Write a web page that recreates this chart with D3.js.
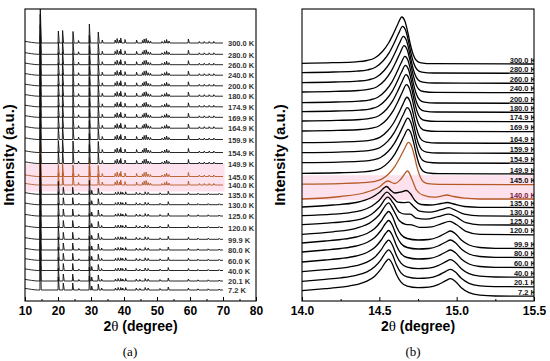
<!DOCTYPE html>
<html>
<head>
<meta charset="utf-8">
<script src="https://cdn.jsdelivr.net/npm/d3@7"></script>
<style>
  body { margin: 0; background: #fff; }
  svg { display: block; }
</style>
</head>
<body>
<div id="chart"></div>
<script>
// temperatures, top trace first
const temps = ["300.0 K","280.0 K","260.0 K","240.0 K","200.0 K","180.0 K","174.9 K","169.9 K",
  "164.9 K","159.9 K","154.9 K","149.9 K","145.0 K","140.0 K","135.0 K","130.0 K","125.0 K",
  "120.0 K","99.9 K","80.0 K","60.0 K","40.0 K","20.1 K","7.2 K"];
const highlight = ["145.0 K","140.0 K"];

// (a) wide scan: stick peaks [2theta, height]
const leftBackground = [[10, 1.6], [11, 1.1], [12, 0.6], [13, 0.2], [13.9, 0]];
const leftPeaksHigh = [[14.62, 40], [20.1, 12], [21.4, 12.5], [24.55, 11.5], [26.2, 2.5], [29.5, 19],
  [32.2, 11], [33.4, 3], [37.3, 3], [37.9, 4.5], [38.6, 3], [39.0, 5], [40.3, 3.5], [43.8, 3],
  [45.6, 2.5], [46.1, 4], [46.7, 4.5], [47.3, 2.5], [48.0, 2], [51.5, 1.5], [52.3, 2.5], [52.9, 3.5],
  [53.6, 2], [59.5, 4], [62.8, 1.5], [64.3, 1.5], [65.8, 1.5], [67.2, 1.5]];
const leftPeaksLow = [[14.62, 40], [20.1, 13], [21.6, 7], [24.45, 7], [26.3, 1.5], [29.5, 14], [30.2, 4],
  [32.2, 6], [33.2, 2], [37.4, 2], [38.2, 2.5], [39.0, 2.5], [39.6, 2], [40.5, 2.5], [43.7, 2],
  [44.8, 1.5], [46.4, 2.5], [47.3, 2], [50.9, 1.5], [53.4, 3], [59.5, 2], [62.4, 1.2], [65.5, 1.2], [68.8, 1]];
const leftPhase = ["high","high","high","high","high","high","high","high","high","high","high","high",
  "high","high","low","low","low","low","low","low","low","low","low","low"];
const leftOffset = [258, 246.7, 236.3, 225.8, 215.2, 204.8, 194.2, 183.7, 172.8, 161.5, 148.5, 137.5,
  124.5, 116, 106.7, 96.3, 85, 73.5, 61.7, 51, 40.7, 30.5, 20, 11];
const leftEnd = 70;
const leftTicks = [10, 20, 30, 40, 50, 60, 70, 80];

// (b) zoom on the first reflection
const rightOffset = [237, 227.7, 217.7, 208.3, 197.7, 188.7, 179.3, 169.3, 157.7, 147.7, 137.7, 127,
  116.3, 102, 93.5, 84.8, 75.8, 66.2, 52.5, 43.5, 33.5, 23.8, 14.2, 4.8];
// high-temperature profile, relative to the peak centre
const profileHigh = [[-0.445, 1.3], [-0.295, 2.2], [-0.225, 3.5], [-0.175, 6], [-0.125, 12.5],
  [-0.085, 21], [-0.055, 30], [-0.025, 40], [0, 47], [0.02, 43], [0.04, 31], [0.055, 20],
  [0.075, 9], [0.095, 3.5], [0.125, 1.2], [0.2, 0.3]];
const highCenter = [14.645, 14.65, 14.655, 14.66, 14.665, 14.668, 14.672, 14.675, 14.678, 14.68,
  14.683, 14.685, 14.688];
const highAmp = [1, 1, 1, 1, 1, 1, 1, 1, 0.98, 0.97, 0.96, 0.95, 0.9];
const profile140 = [[14.0, 0], [14.25, 2.5], [14.4, 6], [14.5, 12], [14.554, 18], [14.6, 15.5],
  [14.64, 20], [14.683, 28], [14.71, 20], [14.74, 9], [14.78, 4], [14.85, 1.8], [14.9, 2.8],
  [14.935, 4], [14.98, 2.5], [15.05, 0.8], [15.15, 0], [15.5, 0]];
const profile135 = [[14.0, 0.5], [14.2, 2.5], [14.35, 5], [14.45, 10], [14.5, 15], [14.547, 21],
  [14.575, 17], [14.6, 14.5], [14.64, 15.5], [14.675, 17], [14.7, 14], [14.73, 7], [14.77, 3],
  [14.83, 2.5], [14.9, 4], [14.94, 5], [14.98, 3.5], [15.05, 1], [15.15, 0.2], [15.5, 0]];
const profile130 = [[14.0, 0.5], [14.2, 2], [14.35, 4.5], [14.45, 10], [14.5, 16], [14.55, 24],
  [14.58, 20], [14.62, 14], [14.66, 13.5], [14.69, 14], [14.72, 10], [14.76, 5], [14.82, 4],
  [14.9, 6.5], [14.95, 8.5], [14.99, 6], [15.05, 2], [15.15, 0.3], [15.5, 0]];
const profile125 = [[14.0, 0.5], [14.2, 2.5], [14.35, 5], [14.45, 11], [14.5, 18], [14.555, 28],
  [14.59, 22], [14.63, 13], [14.67, 11], [14.7, 11], [14.74, 7], [14.8, 6], [14.88, 8.5],
  [14.95, 11], [15.0, 8], [15.06, 2.5], [15.15, 0.4], [15.5, 0]];
const profile120 = [[14.0, 0.5], [14.2, 3], [14.35, 6.5], [14.45, 13], [14.5, 20], [14.56, 32],
  [14.59, 25], [14.63, 14], [14.67, 10.5], [14.71, 10], [14.76, 7.5], [14.84, 8], [14.9, 11],
  [14.955, 13.5], [15.0, 10], [15.06, 3.5], [15.15, 0.5], [15.5, 0]];
const profileLow = [[14.0, 5.5], [14.15, 7.5], [14.25, 9], [14.35, 11.5], [14.42, 15], [14.47, 20],
  [14.51, 27], [14.54, 34], [14.56, 37], [14.585, 32], [14.61, 22], [14.64, 14], [14.68, 10],
  [14.75, 8.5], [14.82, 9], [14.88, 11.5], [14.93, 15.5], [14.96, 17.5], [14.99, 15], [15.03, 8.5],
  [15.08, 3.5], [15.15, 1], [15.25, 0.2], [15.5, 0]];
const rightTicks = [14.0, 14.5, 15.0, 15.5];

const W = 550, H = 361;
const plotTop = 9, plotBottom = 301;
const panelA = {left: 25, right: 256};
const panelB = {left: 302, right: 534};
const orange = "#b45a26";
const pink = "#fde2ee";

const svg = d3.select("#chart").append("svg")
  .attr("width", W).attr("height", H)
  .style("font-family", "'Liberation Sans', Arial, sans-serif");

const y = d3.scaleLinear().domain([0, plotBottom - plotTop]).range([plotBottom, plotTop]);

const defs = svg.append("defs");
defs.append("clipPath").attr("id", "clipA").append("rect")
  .attr("x", panelA.left).attr("y", plotTop).attr("width", panelA.right - panelA.left).attr("height", plotBottom - plotTop);
defs.append("clipPath").attr("id", "clipB").append("rect")
  .attr("x", panelB.left).attr("y", plotTop).attr("width", panelB.right - panelB.left).attr("height", plotBottom - plotTop);

////////////// panel (a) //////////////
const xA = d3.scaleLinear().domain([10, 80]).range([panelA.left, panelA.right]);
const gA = svg.append("g").attr("clip-path", "url(#clipA)");

// pink band around the transition
gA.append("rect")
  .attr("x", xA(10)).attr("width", xA(leftEnd + 0.5) - xA(10))
  .attr("y", y(leftOffset[12] + 12.5)).attr("height", y(leftOffset[13] - 6.5) - y(leftOffset[12] + 12.5))
  .attr("fill", pink);

function stickPoints(peaks) {
  let pts = leftBackground.slice();
  peaks.forEach(p => {
    pts.push([p[0] - 0.1, 0], [p[0], p[1]], [p[0] + 0.3, 0]);
  });
  pts.push([leftEnd, 0]);
  return pts.sort((a, b) => a[0] - b[0]);
}

// highlighted traces first, so the black spikes of the neighbours sit on top
const orderA = d3.range(temps.length).sort((a, b) =>
  (highlight.includes(temps[b]) ? 1 : 0) - (highlight.includes(temps[a]) ? 1 : 0));

const lineA = d3.line();
orderA.forEach(i => {
  const t = temps[i];
  const peaks = leftPhase[i] == "high" ? leftPeaksHigh : leftPeaksLow;
  const off = leftOffset[i];
  gA.append("path")
    .attr("d", lineA(stickPoints(peaks).map(d => [xA(d[0]), y(off + d[1])])))
    .attr("fill", "none")
    .attr("stroke", highlight.includes(t) ? orange : "#111")
    .attr("stroke-width", 0.9);
});

svg.append("g").selectAll("text")
  .data(temps)
  .join("text")
    .attr("x", xA(leftEnd) + 5)
    .attr("y", (d, i) => y(leftOffset[i]) + 3.2)
    .style("font-size", "7.5px")
    .style("font-weight", "bold")
    .style("fill", "#333")
    .text(d => d);

////////////// panel (b) //////////////
const xB = d3.scaleLinear().domain([14.0, 15.5]).range([panelB.left, panelB.right]);
const gB = svg.append("g").attr("clip-path", "url(#clipB)");

gB.append("rect")
  .attr("x", panelB.left).attr("width", panelB.right - panelB.left)
  .attr("y", y(rightOffset[12] + 9.5)).attr("height", y(rightOffset[13] - 1) - y(rightOffset[12] + 9.5))
  .attr("fill", pink);

function rightProfile(i) {
  if (i < highCenter.length) {
    const c = highCenter[i], a = highAmp[i];
    let pts = [[14.0, 0.7 * a]];
    profileHigh.forEach(p => pts.push([c + p[0], p[1] * a]));
    pts.push([15.5, 0]);
    return pts;
  }
  const byTemp = {"140.0 K": profile140, "135.0 K": profile135, "130.0 K": profile130,
    "125.0 K": profile125, "120.0 K": profile120};
  return byTemp[temps[i]] || profileLow;
}

const lineB = d3.line().curve(d3.curveMonotoneX);
temps.forEach((t, i) => {
  const off = rightOffset[i];
  gB.append("path")
    .attr("d", lineB(rightProfile(i).map(d => [xB(d[0]), y(off + d[1])])))
    .attr("fill", "none")
    .attr("stroke", highlight.includes(t) ? orange : "#000")
    .attr("stroke-width", 1.3);
});

gB.append("g").selectAll("text")
  .data(temps)
  .join("text")
    .attr("x", panelB.right + 2)
    .attr("y", (d, i) => y(rightOffset[i]) - 1.5)
    .attr("text-anchor", "end")
    .style("font-size", "7.5px")
    .style("font-weight", "bold")
    .style("fill", d => d == "140.0 K" ? "#7a1a3c" : "#111")
    .text(d => d);

////////////// frames and axes //////////////
function frame(p) {
  svg.append("rect")
    .attr("x", p.left).attr("y", plotTop)
    .attr("width", p.right - p.left).attr("height", plotBottom - plotTop)
    .attr("fill", "none").attr("stroke", "#000").attr("stroke-width", 1.1);
}
frame(panelA);
frame(panelB);

function xAxis(scale, ticks, minor, fmt) {
  svg.append("g")
    .attr("transform", `translate(0, ${plotBottom})`)
    .call(d3.axisBottom(scale).tickValues(minor).tickSize(-2).tickFormat(""))
    .call(g => g.select(".domain").remove());
  svg.append("g")
    .attr("transform", `translate(0, ${plotBottom})`)
    .call(d3.axisBottom(scale).tickValues(ticks).tickSize(-4).tickPadding(5).tickFormat(fmt))
    .call(g => g.select(".domain").remove())
    .call(g => g.selectAll("text")
      .style("font-family", "'Liberation Sans', Arial, sans-serif")
      .style("font-size", "12px").style("font-weight", "bold").style("fill", "#000"));
}
xAxis(xA, leftTicks, [15, 25, 35, 45, 55, 65, 75], d3.format("d"));
xAxis(xB, rightTicks, [14.25, 14.75, 15.25], d3.format(".1f"));

// axis titles
function xTitle(cx) {
  const t = svg.append("text")
    .attr("x", cx).attr("y", 331)
    .attr("text-anchor", "middle")
    .style("font-size", "14px").style("font-weight", "bold");
  t.append("tspan").text("2");
  t.append("tspan").style("font-family", "'Liberation Serif', 'Times New Roman', serif")
    .style("font-weight", "normal").style("font-size", "15px").text("θ");
  t.append("tspan").text(" (degree)");
}
xTitle((panelA.left + panelA.right) / 2);
xTitle((panelB.left + panelB.right) / 2);

function yTitle(cx) {
  svg.append("text")
    .attr("transform", `translate(${cx}, ${(plotTop + plotBottom) / 2}) rotate(-90)`)
    .attr("text-anchor", "middle")
    .style("font-size", "15px").style("font-weight", "bold")
    .text("Intensity (a.u.)");
}
yTitle(14);
yTitle(285);

// panel letters
[["(a)", 130], ["(b)", 413]].forEach(d => {
  svg.append("text")
    .attr("x", d[1]).attr("y", 356)
    .attr("text-anchor", "middle")
    .style("font-family", "'Liberation Serif', 'Times New Roman', serif")
    .style("font-size", "13px")
    .text(d[0]);
});
</script>
</body>
</html>
